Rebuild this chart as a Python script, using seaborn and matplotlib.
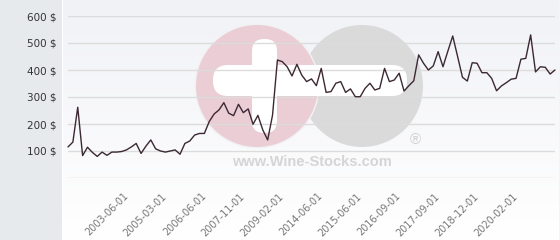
import numpy as np
import pandas as pd
import matplotlib
matplotlib.use("Agg")
import matplotlib.pyplot as plt
from matplotlib.patches import Circle, FancyBboxPatch, Rectangle
import seaborn as sns

# ---- data ----
prices = [115, 133, 262, 83, 114, 95, 80, 96, 84, 96,
          96, 98, 104, 115, 128, 91, 118, 141, 108, 100,
          96, 100, 104, 88, 128, 137, 159, 165, 165, 209,
          237, 252, 279, 240, 231, 273, 242, 256, 199, 232,
          178, 141, 233, 437, 431, 412, 378, 421, 381, 357,
          367, 342, 406, 317, 320, 351, 357, 317, 330, 301,
          301, 332, 351, 326, 332, 406, 357, 363, 388, 322,
          342, 360, 456, 425, 400, 415, 468, 412, 470, 526,
          450, 373, 359, 427, 425, 390, 390, 369, 323, 341,
          353, 366, 369, 440, 443, 530, 393, 412, 410, 385, 400]
tick_labels = ['2003-06-01', '2005-03-01', '2006-06-01', '2007-11-01',
               '2009-02-01', '2014-06-01', '2015-06-01', '2016-09-01',
               '2017-09-01', '2018-12-01', '2020-02-01']
y_ticks = [0, 100, 200, 300, 400, 500, 600]
y_labels = ['', '100 $', '200 $', '300 $', '400 $', '500 $', '600 $']

df = pd.DataFrame({'idx': np.arange(len(prices)), 'price': prices})

sns.set_theme(style="white")
plt.rcParams['font.family'] = ['DejaVu Sans']

W, H = 560, 240
fig = plt.figure(figsize=(W / 100, H / 100), dpi=100)
fig.patch.set_facecolor('white')

# ---- background / watermark layer (pixel coordinates) ----
bg = fig.add_axes([0, 0, 1, 1], zorder=0)
bg.set_xlim(0, W)
bg.set_ylim(H, 0)
bg.axis('off')
bg.add_patch(Rectangle((0, 0), 62, H, color='#e6eaed', lw=0))
grad = np.linspace(0, 1, 256)[:, None]
c_top = np.array([0.945, 0.949, 0.965])
c_bot = np.array([1.0, 1.0, 1.0])
img = c_top[None, None, :] * (1 - grad[..., None]) + c_bot[None, None, :] * grad[..., None]
img = np.repeat(img, 2, axis=1)
bg.imshow(img, extent=(63, 559, H, 0), aspect='auto', zorder=0)
bg.plot([559.5, 559.5], [0, H], color='#c8c8c8', lw=1, zorder=1)

# logo
bg.add_patch(Circle((362, 86), 61, color='#dadada', lw=0, zorder=2))
bg.add_patch(Circle((257, 86), 62.5, color='#f2f2f4', lw=0, zorder=3))
bg.add_patch(Circle((257, 86), 61, color='#eacdd5', lw=0, zorder=4))
bg.add_patch(FancyBboxPatch((213, 65), 194, 31,
                            boxstyle='round,pad=0,rounding_size=15',
                            color='white', lw=0, zorder=5))
bg.add_patch(FancyBboxPatch((252, 39), 25, 94,
                            boxstyle='round,pad=0,rounding_size=12',
                            color='white', lw=0, zorder=5))
bg.text(312, 162, 'www.Wine-Stocks.com', ha='center', va='center',
        fontsize=10.5, fontweight='bold', color='#d5d5d5',
        family=['Liberation Sans', 'DejaVu Sans'], zorder=6)
bg.text(415, 140, '\u00ae', ha='center', va='center', fontsize=11,
        color='#d0d0d0', family=['Liberation Sans', 'DejaVu Sans'], zorder=6)

# ---- main chart ----
ax = fig.add_axes([68 / W, (H - 178) / H, (555 - 68) / W, (178 - 16) / H], zorder=2)
ax.set_facecolor('none')
sns.lineplot(data=df, x='idx', y='price', ax=ax, color='#3b2833', linewidth=1.0)
ax.set_xlim(0, len(prices) - 1)
ax.set_ylim(0, 600)
ax.set_yticks(y_ticks)
ax.set_yticklabels(y_labels, fontsize=7.5, color='#333333')
ax.set_xticks(np.arange(12, 12 + 8 * len(tick_labels), 8))
ax.set_xticklabels(tick_labels, rotation=45, ha='right', va='center',
                   rotation_mode='anchor', fontsize=7, color='#777777')
ax.tick_params(axis='y', length=0, pad=8)
ax.tick_params(axis='x', length=0, pad=12)
ax.yaxis.grid(True, color='#dcdcdc', lw=1)
ax.xaxis.grid(False)
for s in ax.spines.values():
    s.set_visible(False)
ax.set_xlabel('')
ax.set_ylabel('')
ax.get_lines()[0].set_clip_on(False)

fig.savefig('out.png', dpi=100)
